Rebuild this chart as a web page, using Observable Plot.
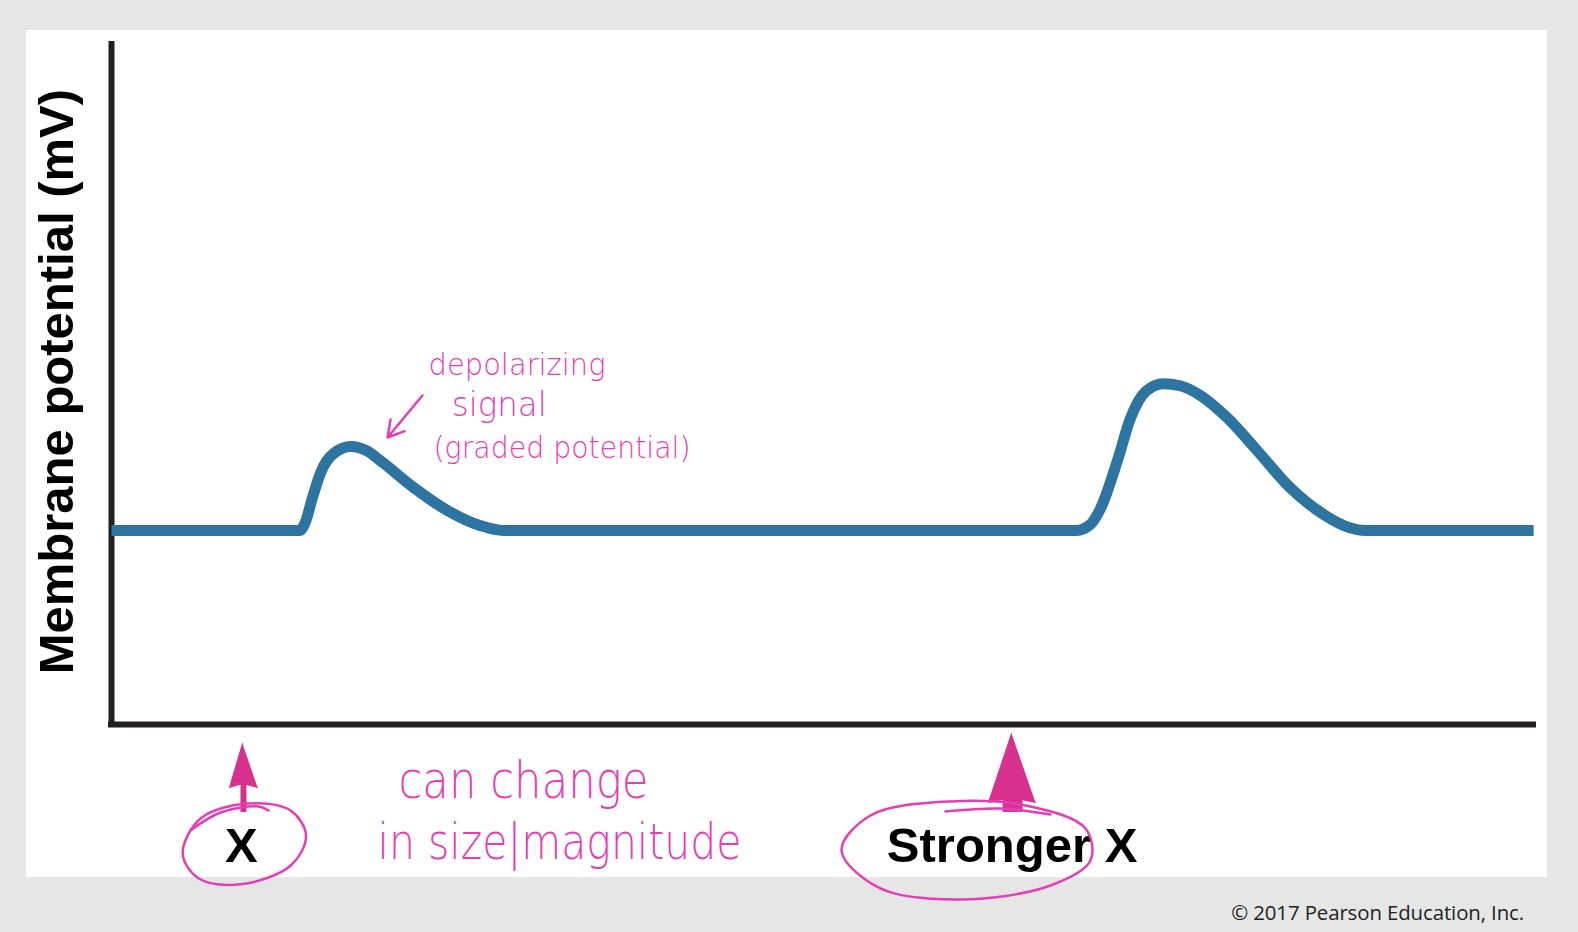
<!DOCTYPE html>
<html>
<head>
<meta charset="utf-8">
<script src="https://cdn.jsdelivr.net/npm/d3@7"></script>
<script src="https://cdn.jsdelivr.net/npm/@observablehq/plot@0.6"></script>
<style>
  html, body { margin: 0; padding: 0; background: #e6e6e6; width: 1578px; height: 932px; overflow: hidden; position: relative; }
  #panel { position: absolute; left: 26px; top: 30px; width: 1521px; height: 847px; background: #ffffff; }
  #chart { position: absolute; left: 0; top: 0; }
  #caption { position: absolute; right: 54px; top: 902px; font: 20.4px/20px "Open Sans", sans-serif; color: #222; white-space: nowrap; letter-spacing: -0.1px; }
</style>
</head>
<body>
<div id="panel"></div>
<div id="chart"></div>
<div id="caption">© 2017 Pearson Education, Inc.</div>
<script>
// ---- data (arbitrary units: time 0–100, potential 0–100) ----
const time = [0, 13.2, 13.6, 14.1, 14.7, 15.6, 16.8, 17.9, 19.0, 21.2, 23.6, 25.9, 27.5,
  67.7, 68.7, 69.4, 70.6, 71.5, 72.6, 73.8, 75.0, 76.4, 78.3, 80.4, 82.7, 85.1, 86.9, 88.0, 99.8];
const potential = [28.4, 28.4, 29.6, 33.2, 37.0, 39.7, 40.7, 40.1, 38.4, 34.7, 31.3, 29.1, 28.4,
  28.4, 29.3, 31.6, 38.7, 44.8, 48.8, 49.9, 49.6, 48.2, 44.9, 40.1, 34.7, 30.7, 28.8, 28.4, 28.4];

const yLabel = "Membrane potential (mV)";
const yLabelPos = [-2.67, 50.2];

const stimulusLabels = ["X", "Stronger X"];
const stimulusTime = [9.12, 63.2];
const stimulusLevel = [-20.2, -20.2];

// stimulus arrows (heads as polygons, shafts as rules)
const headX = [[9.19, 8.28, 9.19, 10.25], [63.16, 61.54, 63.16, 64.84]];
const headY = [[-2.78, -9.22, -8.64, -9.22], [-1.32, -11.42, -10.69, -11.42]];
const shaftX = [9.26, 63.23];
const shaftTop = [-8.6, -10.6];
const shaftBottom = [-12.88, -12.88];

// hand-drawn loops
const loopSmallX = [5.0, 6.25, 9.54, 12.56, 13.65, 12.6, 9.05, 6.1];
const loopSmallY = [-18.9, -13.76, -11.57, -12.59, -16.25, -20.6, -23.4, -22.5];
const loopBigX = [51.23, 53.26, 58.88, 64.49, 68.35, 68.70, 65.89, 59.58, 53.96];
const loopBigY = [-18.45, -13.32, -11.27, -12.01, -15.23, -19.91, -23.57, -25.62, -24.01];
const tailSmallX = [5.54, 7.65, 10.32, 11.02];
const tailSmallY = [-15.52, -12.88, -12.01, -12.59];
const tailBigX = [58.53, 62.39, 65.89];
const tailBigY = [-12.74, -12.30, -13.18];

// hand-written notes
const noteSignal = ["depolarizing", "signal", "(graded potential)"];
const noteSignalX = [22.25, 23.88, 22.6];
const noteSignalY = [51.1, 45.24, 38.95];
const noteSize = ["can change", "in size|magnitude"];
const noteSizeX = [20.14, 18.67];
const noteSizeY = [-10.83, -19.62];
const pointerFrom = [21.82, 48.17];
const pointerTo = [19.37, 42.02];

// ---- build tables ----
const curve = time.map((t, i) => ({t, v: potential[i]}));
const heads = headX.flatMap((xs, k) => xs.map((x, i) => ({x, y: headY[k][i], k})));
const shafts = shaftX.map((x, i) => ({x, y1: shaftTop[i], y2: shaftBottom[i]}));
const loops = [
  ...loopSmallX.map((x, i) => ({x, y: loopSmallY[i], k: "small"})),
  ...loopBigX.map((x, i) => ({x, y: loopBigY[i], k: "big"}))
];
const tails = [
  ...tailSmallX.map((x, i) => ({x, y: tailSmallY[i], k: "small"})),
  ...tailBigX.map((x, i) => ({x, y: tailBigY[i], k: "big"}))
];
const stimuli = stimulusLabels.map((s, i) => ({s, x: stimulusTime[i], y: stimulusLevel[i]}));
const signalNotes = noteSignal.map((s, i) => ({s, x: noteSignalX[i], y: noteSignalY[i]}));
const sizeNotes = noteSize.map((s, i) => ({s, x: noteSizeX[i], y: noteSizeY[i]}));

const blue = "#2e74a0";
const ink = "#231f20";
const pinkFill = "#d8308f";
const pinkPen = "#e63db5";
const hand = "DejaVu Sans";
const boldFont = "Liberation Sans, Arial, sans-serif";
// rendered widths of the hand-written lines (pixels)
const noteWidths = {"depolarizing": 177, "signal": 95, "(graded potential)": 257, "can change": 250, "in size|magnitude": 364};

const noteMark = (rows, size) => Plot.text(rows, {x: "x", y: "y", text: "s", textAnchor: "start", lineAnchor: "bottom",
  fontSize: size, fontWeight: 200, fontFamily: hand, fill: pinkPen});

const chart = Plot.plot({
  width: 1578,
  height: 932,
  marginLeft: 111,
  marginRight: 42,
  marginTop: 41,
  marginBottom: 208,
  style: {background: "transparent", overflow: "visible"},
  x: {domain: [0, 100], axis: null},
  y: {domain: [0, 100], axis: null},
  marks: [
    Plot.ruleX([0], {y1: -0.45, y2: 100, stroke: ink, strokeWidth: 6}),
    Plot.ruleY([0], {x1: -0.21, x2: 100, stroke: ink, strokeWidth: 6}),
    Plot.line(curve, {x: "t", y: "v", curve: "monotone-x", stroke: blue, strokeWidth: 11, strokeLinecap: "butt", strokeLinejoin: "round"}),
    Plot.text([yLabel], {x: () => yLabelPos[0], y: () => yLabelPos[1], text: d => d, rotate: -90, textAnchor: "middle", lineAnchor: "bottom",
      fontSize: 49, fontWeight: "bold", fontFamily: boldFont, fill: "#000"}),
    Plot.text(stimuli, {x: "x", y: "y", text: "s", textAnchor: "middle", lineAnchor: "bottom",
      fontSize: 49, fontWeight: "bold", fontFamily: boldFont, fill: "#000"}),
    Plot.ruleX(shafts.slice(0, 1), {x: "x", y1: "y1", y2: "y2", stroke: pinkFill, strokeWidth: 6}),
    Plot.ruleX(shafts.slice(1), {x: "x", y1: "y1", y2: "y2", stroke: pinkFill, strokeWidth: 20}),
    Plot.line(heads, {x: "x", y: "y", z: "k", fill: pinkFill, stroke: pinkFill, strokeWidth: 1}),
    Plot.line(loops, {x: "x", y: "y", z: "k", curve: "catmull-rom-closed", stroke: pinkPen, strokeWidth: 2.5}),
    Plot.line(tails, {x: "x", y: "y", z: "k", curve: "catmull-rom", stroke: pinkPen, strokeWidth: 2.5}),
    Plot.arrow([{x1: pointerFrom[0], y1: pointerFrom[1], x2: pointerTo[0], y2: pointerTo[1]}],
      {x1: "x1", y1: "y1", x2: "x2", y2: "y2", stroke: pinkPen, strokeWidth: 2.5, headLength: 18}),
    noteMark(signalNotes.slice(0, 1), 31),
    noteMark(signalNotes.slice(1, 2), 33),
    noteMark(signalNotes.slice(2), 31),
    noteMark(sizeNotes.slice(0, 1), 52),
    noteMark(sizeNotes.slice(1), 50)
  ]
});
// squeeze the hand-written lines to their widths in the picture
d3.select(chart).selectAll("text").each(function () {
  const w = noteWidths[this.textContent];
  if (w) { this.setAttribute("textLength", w); this.setAttribute("lengthAdjust", "spacingAndGlyphs"); }
});
document.getElementById("chart").appendChild(chart);
</script>
</body>
</html>
